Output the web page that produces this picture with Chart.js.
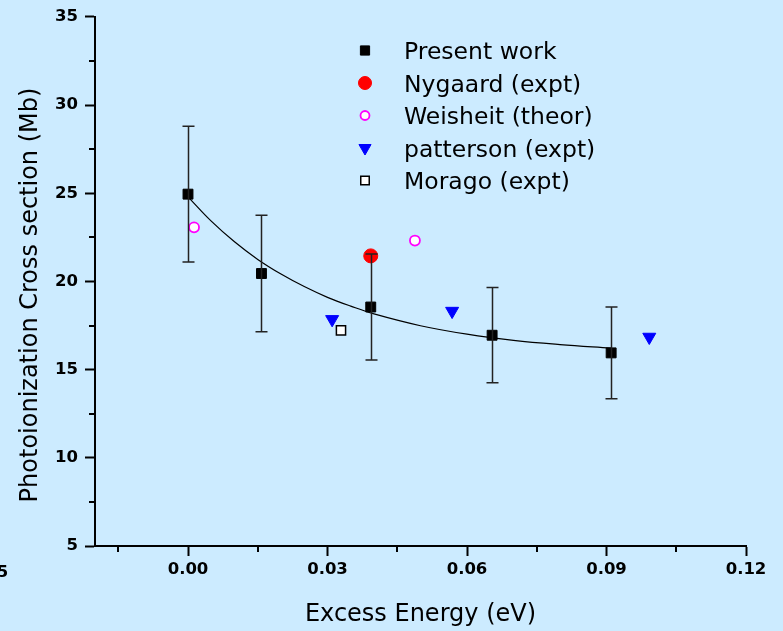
<!DOCTYPE html>
<html>
<head>
<meta charset="utf-8">
<script src="https://cdn.jsdelivr.net/npm/chart.js@4"></script>
<style>
  html, body { margin: 0; padding: 0; background: #ccebff; }
  canvas { display: block; }
</style>
</head>
<body>
<canvas id="xsChart" width="783" height="631"></canvas>
<script>
// Photoionization cross section vs excess energy

// present work, with symmetric error bars
const presentX = [0.0, 0.0158, 0.0393, 0.0654, 0.0910];
const presentY = [24.95, 20.45, 18.55, 16.95, 15.95];
const presentErr = [3.85, 3.3, 3.0, 2.7, 2.6];

const nygaardX = [0.0393];
const nygaardY = [21.45];

const weisheitX = [0.0013, 0.0488];
const weisheitY = [23.07, 22.32];

const pattersonX = [0.0310, 0.0568, 0.0992];
const pattersonY = [17.85, 18.32, 16.85];

const moragoX = [0.0329];
const moragoY = [17.23];

// decay fit through the present points
const fitX = [0, 0.005, 0.01, 0.015, 0.02, 0.025, 0.03, 0.035, 0.04, 0.05, 0.06, 0.07, 0.08, 0.091];
const fitY = [24.8, 23.42, 22.25, 21.25, 20.42, 19.71, 19.1, 18.6, 18.16, 17.49, 17.01, 16.66, 16.42, 16.22];

const xTicks = [0.00, 0.03, 0.06, 0.09, 0.12];
const xMinor = [-0.015, 0.015, 0.045, 0.075, 0.105];
const xOffLabel = -0.045; // label hanging off the left edge
const yTicks = [5, 10, 15, 20, 25, 30, 35];
const yMinor = [7.5, 12.5, 17.5, 22.5, 27.5, 32.5];

const xTitle = 'Excess Energy (eV)';
const yTitle = 'Photoionization Cross section (Mb)';

const pts = (xs, ys) => xs.map((x, i) => ({ x: x, y: ys[i] }));

Chart.defaults.font.family = '"DejaVu Sans", sans-serif';
Chart.defaults.color = '#000';

const bgPlugin = {
  id: 'bg',
  beforeDraw(chart) {
    const c = chart.ctx;
    c.save();
    c.fillStyle = '#ccebff';
    c.fillRect(0, 0, chart.width, chart.height);
    c.restore();
  }
};

const errorBars = {
  id: 'errorBars',
  afterDatasetsDraw(chart) {
    const { ctx, scales: { x, y } } = chart;
    ctx.save();
    ctx.strokeStyle = '#222';
    ctx.lineWidth = 1.5;
    ctx.beginPath();
    presentX.forEach((v, i) => {
      const px = Math.round(x.getPixelForValue(v)) + 0.5;
      const top = y.getPixelForValue(presentY[i] + presentErr[i]);
      const bot = y.getPixelForValue(presentY[i] - presentErr[i]);
      ctx.moveTo(px, top); ctx.lineTo(px, bot);
      ctx.moveTo(px - 6, top); ctx.lineTo(px + 6, top);
      ctx.moveTo(px - 6, bot); ctx.lineTo(px + 6, bot);
    });
    ctx.stroke();
    ctx.restore();
  }
};

const extras = {
  id: 'extras',
  afterDraw(chart) {
    const { ctx, scales: { x, y }, chartArea: a } = chart;
    ctx.save();
    // minor ticks
    ctx.strokeStyle = '#000';
    ctx.lineWidth = 2;
    ctx.beginPath();
    xMinor.forEach(v => {
      const px = Math.round(x.getPixelForValue(v));
      ctx.moveTo(px, a.bottom); ctx.lineTo(px, a.bottom + 6);
    });
    yMinor.forEach(v => {
      const py = Math.round(y.getPixelForValue(v));
      ctx.moveTo(a.left, py); ctx.lineTo(a.left - 6, py);
    });
    ctx.stroke();

    ctx.fillStyle = '#000';
    ctx.textAlign = 'center';
    ctx.textBaseline = 'alphabetic';
    ctx.font = 'bold 16.5px "DejaVu Sans"';
    ctx.fillText(xOffLabel.toFixed(3), x.getPixelForValue(xOffLabel), 577);

    // axis titles
    ctx.font = '24px "DejaVu Sans"';
    ctx.fillText(xTitle, (a.left + a.right) / 2, 621);
    ctx.translate(37, 295);
    ctx.rotate(-Math.PI / 2);
    ctx.fillText(yTitle, 0, 0);
    ctx.restore();
  }
};

// legend block inside the plot area
const innerLegend = {
  id: 'innerLegend',
  afterDraw(chart) {
    const ctx = chart.ctx;
    const mx = 365, tx = 404, y0 = 50.5, dy = 32.5;
    ctx.save();
    ctx.font = '23.5px "DejaVu Sans"';
    ctx.textAlign = 'left';
    ctx.textBaseline = 'alphabetic';
    chart.data.datasets.filter(d => d.inLegend).forEach((d, i) => {
      const cy = y0 + i * dy;
      ctx.fillStyle = d.backgroundColor;
      ctx.strokeStyle = d.borderColor;
      ctx.lineWidth = d.borderWidth;
      Chart.helpers.drawPoint(ctx, {
        pointStyle: d.pointStyle,
        rotation: d.rotation || 0,
        radius: d.pointRadius - 0.5,
        borderWidth: d.borderWidth
      }, mx, cy);
      ctx.fillStyle = '#000';
      ctx.fillText(d.label, tx, cy + 8.5);
    });
    ctx.restore();
  }
};

new Chart(document.getElementById('xsChart'), {
  type: 'scatter',
  data: {
    datasets: [
      {
        label: 'Present work', inLegend: true,
        data: pts(presentX, presentY),
        pointStyle: 'rect', pointRadius: 7,
        backgroundColor: '#000', borderColor: '#000', borderWidth: 1
      },
      {
        label: 'Nygaard (expt)', inLegend: true,
        data: pts(nygaardX, nygaardY),
        pointStyle: 'circle', pointRadius: 7,
        backgroundColor: '#ff0000', borderColor: '#ff0000', borderWidth: 1
      },
      {
        label: 'Weisheit (theor)', inLegend: true,
        data: pts(weisheitX, weisheitY),
        pointStyle: 'circle', pointRadius: 5,
        backgroundColor: '#ffffff', borderColor: '#ff00ff', borderWidth: 1.8
      },
      {
        label: 'patterson (expt)', inLegend: true,
        data: pts(pattersonX, pattersonY),
        pointStyle: 'triangle', rotation: 180, pointRotation: 180, pointRadius: 7.5,
        backgroundColor: '#0000ff', borderColor: '#0000ff', borderWidth: 1
      },
      {
        label: 'Morago (expt)', inLegend: true,
        data: pts(moragoX, moragoY),
        pointStyle: 'rect', pointRadius: 6.5,
        backgroundColor: '#ffffff', borderColor: '#000', borderWidth: 1.5
      },
      {
        label: 'fit',
        type: 'line',
        data: pts(fitX, fitY),
        showLine: true,
        tension: 0.4,
        borderColor: '#000', borderWidth: 1.2,
        pointRadius: 0, fill: false
      }
    ]
  },
  options: {
    responsive: false,
    animation: false,
    devicePixelRatio: 1,
    layout: { padding: { top: 16, right: 37, left: 0, bottom: 0 } },
    plugins: {
      legend: { display: false },
      tooltip: { enabled: false }
    },
    scales: {
      x: {
        type: 'linear',
        min: -0.02, max: 0.12,
        afterBuildTicks: s => { s.ticks = xTicks.map(v => ({ value: v })); },
        afterFit: s => { s.height = 85; },
        ticks: {
          callback: v => v.toFixed(2),
          font: { size: 16.5, weight: 'bold' },
          padding: 4,
          maxRotation: 0
        },
        grid: {
          drawOnChartArea: false, drawTicks: true,
          tickLength: 10, tickWidth: 2, tickColor: '#000'
        },
        border: { display: true, color: '#000', width: 2 }
      },
      y: {
        type: 'linear',
        min: 5, max: 35,
        afterBuildTicks: s => { s.ticks = yTicks.map(v => ({ value: v })); },
        afterFit: s => { s.width = 95; },
        ticks: {
          font: { size: 16.5, weight: 'bold' },
          padding: 7
        },
        grid: {
          drawOnChartArea: false, drawTicks: true,
          tickLength: 10, tickWidth: 2, tickColor: '#000'
        },
        border: { display: true, color: '#000', width: 2 }
      }
    }
  },
  plugins: [bgPlugin, errorBars, extras, innerLegend]
});
</script>
</body>
</html>
